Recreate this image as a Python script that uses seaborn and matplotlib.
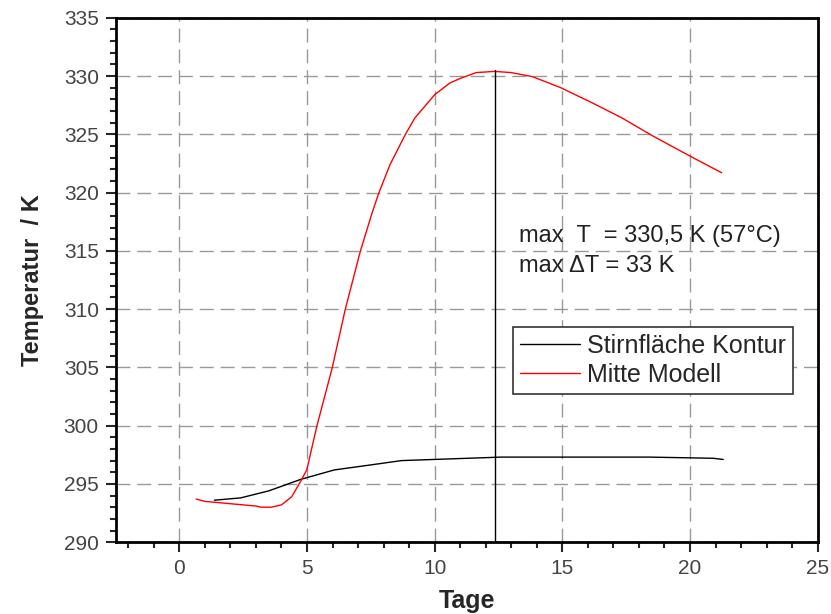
import numpy as np
import pandas as pd
import seaborn as sns
import matplotlib.pyplot as plt
from matplotlib.ticker import MultipleLocator

# data
tage_rot = [0.66, 1.0, 1.5, 2.0, 2.5, 3.0, 3.2, 3.6, 4.0, 4.4, 4.77, 4.99, 5.39, 5.98, 6.5, 7.08,
            7.54, 7.8, 8.25, 8.83, 9.22, 10.0, 10.59, 11.0, 11.63, 12.34, 12.99, 13.83, 14.94, 16.17,
            17.34, 18.51, 19.94, 21.24]
temp_rot = [293.7, 293.5, 293.4, 293.3, 293.2, 293.1, 293.0, 293.0, 293.2, 293.9, 295.3, 296.2, 300.0, 304.9, 310.0, 314.9,
            318.2, 319.9, 322.4, 324.9, 326.4, 328.4, 329.4, 329.8, 330.3, 330.4, 330.3, 329.95, 329.0, 327.7,
            326.4, 324.9, 323.2, 321.7]

tage_schwarz = [1.37, 2.4, 3.5, 4.77, 6.07, 7.4, 8.7, 10.0, 12.6, 15.0, 18.4, 20.9, 21.3]
temp_schwarz = [293.6, 293.8, 294.4, 295.4, 296.2, 296.6, 297.0, 297.1, 297.3, 297.3, 297.3, 297.2, 297.1]

x_max = 12.38
t_max = 330.5

df = pd.concat([
    pd.DataFrame({"Tage": tage_schwarz, "T": temp_schwarz, "Kurve": "Stirnfläche Kontur"}),
    pd.DataFrame({"Tage": tage_rot, "T": temp_rot, "Kurve": "Mitte Modell"}),
])

sns.set_style("white")
plt.rcParams["font.family"] = ["Liberation Sans", "DejaVu Sans"]

fig, ax = plt.subplots(figsize=(8.31, 6.14), dpi=100)
fig.subplots_adjust(left=0.139, right=0.984, top=0.971, bottom=0.117)

sns.lineplot(data=df, x="Tage", y="T", hue="Kurve", palette=["black", "red"],
             linewidth=1.0, ax=ax, sort=False)

ax.plot([x_max, x_max], [290, t_max], color="black", linewidth=1.0)

ax.set_xlim(-2.5, 25)
ax.set_ylim(290, 335)
ax.xaxis.set_major_locator(MultipleLocator(5))
ax.xaxis.set_minor_locator(MultipleLocator(1))
ax.yaxis.set_major_locator(MultipleLocator(5))
ax.yaxis.set_minor_locator(MultipleLocator(1))
ax.grid(True, which="major", color="#999999", linestyle=(0, (10, 5)), linewidth=1.0)
ax.tick_params(which="major", direction="out", length=7, width=1.5, labelsize=15,
               labelcolor="#444444", bottom=True, left=True, pad=5)
ax.tick_params(which="minor", direction="out", length=4, width=1.5, bottom=True, left=True)
for s in ax.spines.values():
    s.set_color("black")
    s.set_linewidth(2)

ax.set_xlabel("Tage", fontsize=18, fontweight="bold", labelpad=8)
ax.set_ylabel("Temperatur  / K", fontsize=17, fontweight="bold", labelpad=14)

ax.text(13.3, 316.3, "max  T  = 330,5 K (57°C)", fontsize=17, va="center", color="#222222")
ax.text(13.3, 313.7, "max \u0394T = 33 K", fontsize=17, va="center", color="#222222")

leg = ax.legend(loc="upper left", bbox_to_anchor=(0.566, 0.411), fontsize=18, frameon=True,
                fancybox=False, edgecolor="#333333", framealpha=1, borderpad=0.28,
                labelspacing=0.2, handlelength=2.4, handletextpad=0.3, borderaxespad=0)
leg.get_frame().set_linewidth(1.2)
for h in leg.get_lines():
    h.set_linewidth(1.0)

fig.savefig("out.png", dpi=100)
